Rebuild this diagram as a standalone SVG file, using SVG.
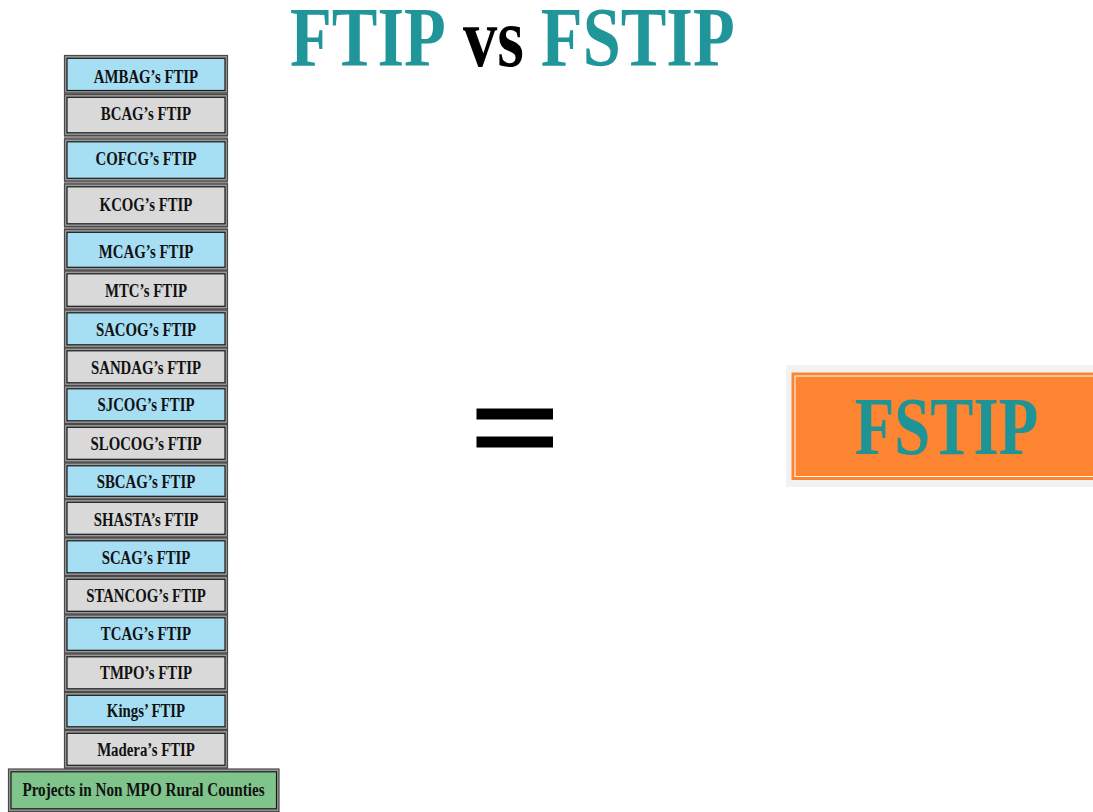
<svg xmlns="http://www.w3.org/2000/svg" width="1093" height="812" viewBox="0 0 1093 812">
<style>
.lbl{font-family:"Liberation Serif","Times New Roman",serif;font-weight:bold;font-size:19px;fill:#111;text-anchor:middle}
.outer{fill:#9a9a9a;stroke:#4a4a4a;stroke-width:1.2}
.blue{fill:#a6def4;stroke:#1a1a1a;stroke-width:1.2}
.gray{fill:#d9d9d9;stroke:#1a1a1a;stroke-width:1.2}
.green{fill:#7fc58b;stroke:#1a1a1a;stroke-width:1.2}
.title{font-family:"Liberation Serif","Times New Roman",serif;font-weight:bold;font-size:85px}
</style>
<rect x="0" y="0" width="1093" height="812" fill="#ffffff"/>
<g id="title">
<text class="title" transform="translate(290,66) scale(0.805,1)"><tspan fill="#21969a">FTIP</tspan><tspan fill="#000000"> vs </tspan><tspan fill="#21969a">FSTIP</tspan></text>
</g>
<rect id="column-back" x="64" y="55" width="164" height="714" fill="#8c8c8c"/>
<g id="ambag"><rect class="outer" x="64.5" y="55.5" width="163" height="37.5"/><rect class="blue" x="67" y="58.3" width="158" height="32.2"/><text class="lbl" transform="translate(146,82.5) scale(0.78,1)">AMBAG’s FTIP</text></g>
<g id="bcag"><rect class="outer" x="64.5" y="94.5" width="163" height="41"/><rect class="gray" x="67" y="97.3" width="158" height="35.5"/><text class="lbl" transform="translate(146,119.5) scale(0.78,1)">BCAG’s FTIP</text></g>
<g id="cofcg"><rect class="outer" x="64.5" y="139" width="163" height="42"/><rect class="blue" x="67" y="141.8" width="158" height="36.5"/><text class="lbl" transform="translate(146,165) scale(0.78,1)">COFCG’s FTIP</text></g>
<g id="kcog"><rect class="outer" x="64.5" y="184" width="163" height="42.5"/><rect class="gray" x="67" y="186.8" width="158" height="37"/><text class="lbl" transform="translate(146,210.5) scale(0.78,1)">KCOG’s FTIP</text></g>
<g id="mcag"><rect class="outer" x="64.5" y="229.5" width="163" height="40.5"/><rect class="blue" x="67" y="232.3" width="158" height="35"/><text class="lbl" transform="translate(146,257.5) scale(0.78,1)">MCAG’s FTIP</text></g>
<g id="mtc"><rect class="outer" x="64.5" y="271" width="163" height="38"/><rect class="gray" x="67" y="273.8" width="158" height="32.5"/><text class="lbl" transform="translate(146,296.5) scale(0.78,1)">MTC’s FTIP</text></g>
<g id="sacog"><rect class="outer" x="64.5" y="310" width="163" height="37.5"/><rect class="blue" x="67" y="312.8" width="158" height="32"/><text class="lbl" transform="translate(146,336) scale(0.78,1)">SACOG’s FTIP</text></g>
<g id="sandag"><rect class="outer" x="64.5" y="348" width="163" height="37.5"/><rect class="gray" x="67" y="350.8" width="158" height="32"/><text class="lbl" transform="translate(146,374) scale(0.78,1)">SANDAG’s FTIP</text></g>
<g id="sjcog"><rect class="outer" x="64.5" y="386" width="163" height="37.5"/><rect class="blue" x="67" y="388.8" width="158" height="32"/><text class="lbl" transform="translate(146,411) scale(0.78,1)">SJCOG’s FTIP</text></g>
<g id="slocog"><rect class="outer" x="64.5" y="424.5" width="163" height="37.5"/><rect class="gray" x="67" y="427.3" width="158" height="32"/><text class="lbl" transform="translate(146,449.5) scale(0.78,1)">SLOCOG’s FTIP</text></g>
<g id="sbcag"><rect class="outer" x="64.5" y="463" width="163" height="36"/><rect class="blue" x="67" y="465.8" width="158" height="30.5"/><text class="lbl" transform="translate(146,488) scale(0.78,1)">SBCAG’s FTIP</text></g>
<g id="shasta"><rect class="outer" x="64.5" y="499.5" width="163" height="37.5"/><rect class="gray" x="67" y="502.3" width="158" height="32"/><text class="lbl" transform="translate(146,526) scale(0.78,1)">SHASTA’s FTIP</text></g>
<g id="scag"><rect class="outer" x="64.5" y="538" width="163" height="37.5"/><rect class="blue" x="67" y="540.8" width="158" height="32"/><text class="lbl" transform="translate(146,564) scale(0.78,1)">SCAG’s FTIP</text></g>
<g id="stancog"><rect class="outer" x="64.5" y="576.5" width="163" height="37.5"/><rect class="gray" x="67" y="579.3" width="158" height="32"/><text class="lbl" transform="translate(146,601.5) scale(0.78,1)">STANCOG’s FTIP</text></g>
<g id="tcag"><rect class="outer" x="64.5" y="615" width="163" height="38"/><rect class="blue" x="67" y="617.8" width="158" height="32.5"/><text class="lbl" transform="translate(146,640) scale(0.78,1)">TCAG’s FTIP</text></g>
<g id="tmpo"><rect class="outer" x="64.5" y="654" width="163" height="37.5"/><rect class="gray" x="67" y="656.8" width="158" height="32"/><text class="lbl" transform="translate(146,678.5) scale(0.78,1)">TMPO’s FTIP</text></g>
<g id="kings"><rect class="outer" x="64.5" y="692.5" width="163" height="37"/><rect class="blue" x="67" y="695.3" width="158" height="31.5"/><text class="lbl" transform="translate(146,717) scale(0.78,1)">Kings’ FTIP</text></g>
<g id="madera"><rect class="outer" x="64.5" y="730.5" width="163" height="37.5"/><rect class="gray" x="67" y="733.3" width="158" height="32"/><text class="lbl" transform="translate(146,756) scale(0.78,1)">Madera’s FTIP</text></g>
<g id="projects"><rect class="outer" x="8.5" y="769" width="270.5" height="42.5"/><rect class="green" x="11" y="771.8" width="265.5" height="37"/><text class="lbl" transform="translate(143.5,796) scale(0.8,1)">Projects in Non MPO Rural Counties</text></g>
<g id="connectors"></g>
<g id="equals">
<rect x="476.5" y="408.5" width="76.5" height="11" fill="#000"/>
<rect x="476.5" y="436.5" width="76.5" height="11" fill="#000"/>
</g>
<g id="fstip">
<rect x="786" y="365" width="310" height="122" fill="#f2f2f2"/>
<rect x="791.5" y="372.5" width="305" height="107.5" fill="#fd8531"/>
<rect x="795" y="376" width="305" height="100.5" fill="none" stroke="#ffffff" stroke-width="1"/>
<text transform="translate(946.5,454) scale(0.78,1)" font-family="Liberation Serif, Times New Roman, serif" font-weight="bold" font-size="83" fill="#1f9497" text-anchor="middle">FSTIP</text>
</g>
</svg>
